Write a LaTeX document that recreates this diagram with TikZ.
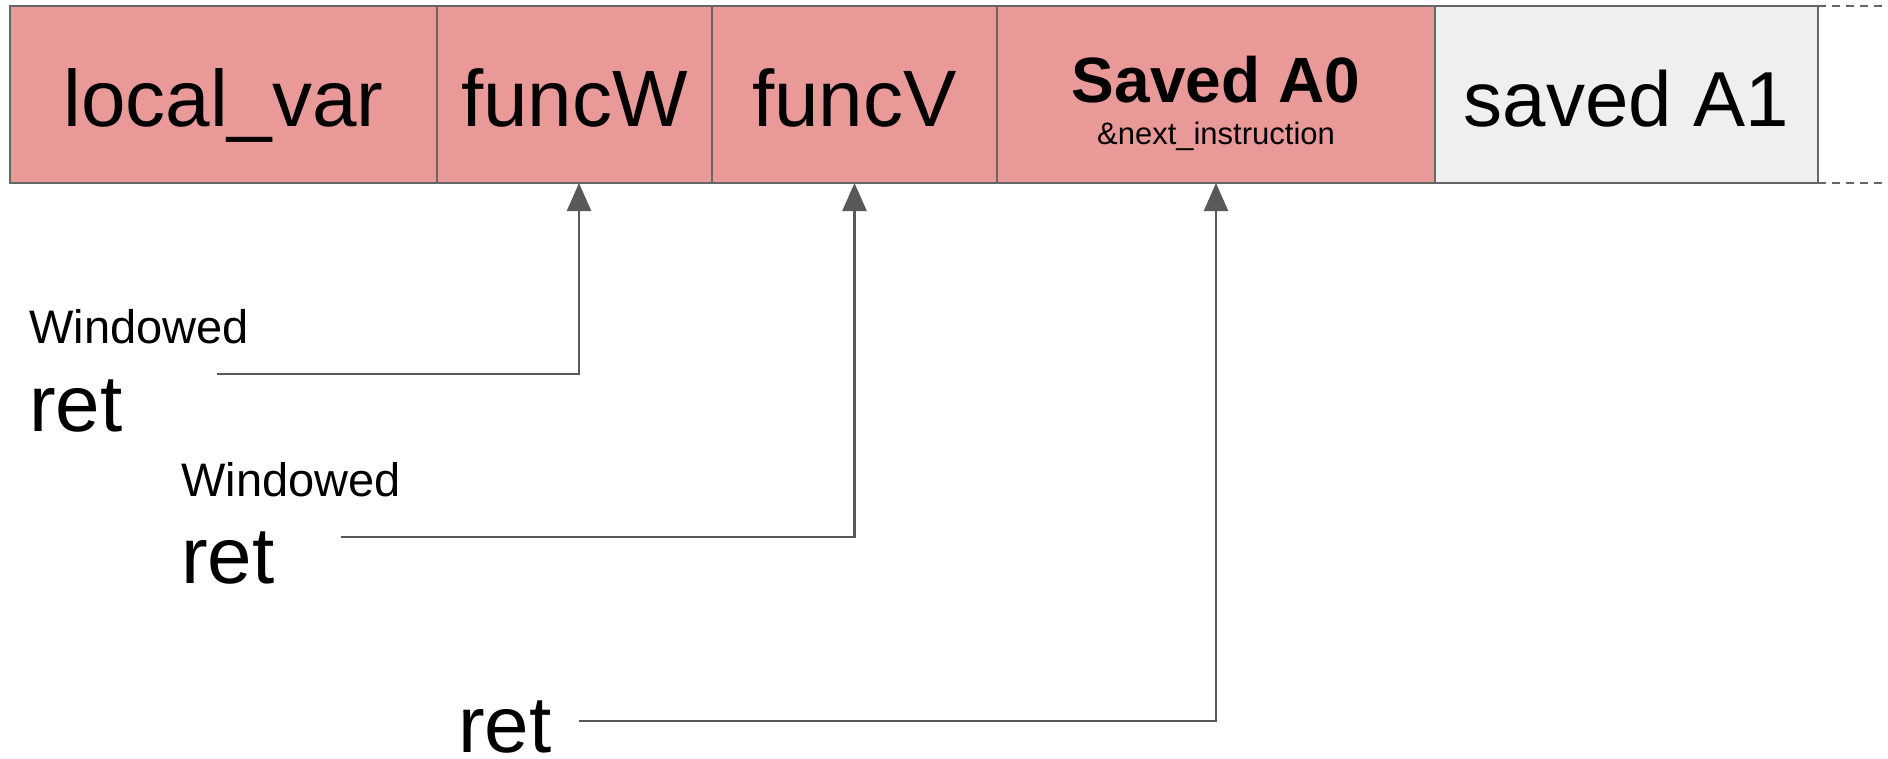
\documentclass[tikz,border=0pt]{standalone}
\usepackage{fontspec}
\setmainfont{Liberation Sans}
\usetikzlibrary{arrows.meta}
\definecolor{cellred}{HTML}{EA9999}
\definecolor{cellgray}{HTML}{EFEFEF}
\definecolor{edgegray}{HTML}{666666}
\definecolor{arrowgray}{HTML}{595959}
\begin{document}
\begin{tikzpicture}[x=1pt,y=-1pt,
 cell/.style={draw=edgegray, line width=1.5pt, anchor=north west, outer sep=0pt, minimum height=177pt, inner sep=0pt, text height=63pt, text depth=0pt, font=\fontsize{80}{96}\selectfont},
 redcell/.style={cell, fill=cellred},
 graycell/.style={cell, fill=cellgray},
 conn/.style={draw=arrowgray, line width=2.4pt, -{Triangle[width=24pt,length=28pt]}},
 smalllabel/.style={inner sep=0pt, anchor=base west, font=\fontsize{47}{56}\selectfont},
 biglabel/.style={inner sep=0pt, anchor=base west, font=\fontsize{80}{96}\selectfont},
 dashline/.style={draw=edgegray, line width=1.5pt, dash pattern=on 8pt off 6pt}]
\useasboundingbox (0,0) rectangle (1888,758);
\node[redcell, minimum width=427pt] (lv) at (10,6) {local\_var};
\node[redcell, minimum width=275pt] (fw) at (437,6) {funcW};
\node[redcell, minimum width=285pt] (fv) at (712,6) {funcV};
\node[redcell, minimum width=438pt] (sa0) at (997,6) {};
\node[graycell, minimum width=383pt, font=\fontsize{78}{94}\selectfont] (sa1) at (1435,6) {saved A1};
\node[inner sep=0pt, anchor=base, font=\fontsize{64}{76}\selectfont\bfseries] (sa0t) at (1216,102) {Saved A0};
\node[inner sep=0pt, anchor=base, font=\fontsize{31}{37}\selectfont] (sa0s) at (1216,144) {\&next\_instruction};
\draw[dashline] (sa1.north east) -- (1888,6);
\draw[dashline] (sa1.south east) -- (1888,183);
\node[smalllabel] (win1) at (29,343) {Windowed};
\node[biglabel] (ret1) at (29,431) {ret};
\node[smalllabel] (win2) at (181,496) {Windowed};
\node[biglabel] (ret2) at (181,583) {ret};
\node[biglabel] (ret3) at (458,752) {ret};
\coordinate (c1) at (217,374);
\coordinate (c2) at (341,537);
\coordinate (c3) at (579,721);
\draw[conn] (c1) -| ([xshift=4.5pt]fw.south);
\draw[conn] (c2) -| (fv.south);
\draw[conn] (c3) -| (sa0.south);
\end{tikzpicture}
\end{document}
